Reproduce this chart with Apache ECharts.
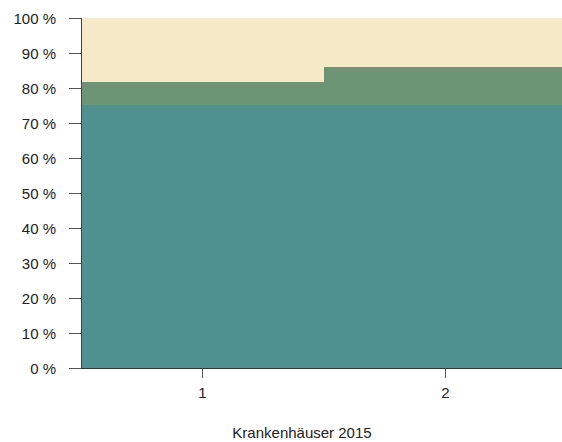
<!DOCTYPE html>
<html>
<head>
<meta charset="utf-8">
<script src="https://cdn.jsdelivr.net/npm/echarts@6/dist/echarts.min.js"></script>
<style>
  html, body { margin: 0; padding: 0; background: #fff; }
  #chart { width: 562px; height: 442px; }
  #chart path { shape-rendering: crispEdges; }
</style>
</head>
<body>
<div id="chart"></div>
<script>
// Daten (Anteile in %)
const categories = [1, 2];
const tealValues = [75.1, 75.1];
const greenValues = [6.5, 10.8];
const beigeValues = [18.4, 14.1];
const xTitle = 'Krankenhäuser 2015';

const myChart = echarts.init(document.getElementById('chart'), null, { renderer: 'svg' });

const labelFont = {
    color: '#222',
    fontFamily: 'Liberation Sans',
    fontSize: 15
};

// kumulierte Höhen, Balken liegen übereinander (hinterste zuerst)
const tealTop = tealValues.slice();
const greenTop = tealValues.map((v, i) => v + greenValues[i]);
const beigeTop = greenTop.map((v, i) => v + beigeValues[i]);

function pairs(values) {
    return values.map((v, i) => [categories[i], v]);
}

function barSeries(name, values, color) {
    return {
        name: name,
        type: 'bar',
        barWidth: 243,
        barGap: '-100%',
        data: pairs(values),
        itemStyle: { color: color }
    };
}

const option = {
    animation: false,
    grid: {
        left: 81,
        top: 18,
        right: 0,
        height: 350,
        containLabel: false
    },
    graphic: [{
        type: 'text',
        x: 302,
        y: 432,
        style: {
            text: xTitle,
            textAlign: 'center',
            textVerticalAlign: 'middle',
            fill: '#222',
            font: '15px "Liberation Sans"'
        }
    }],
    xAxis: {
        type: 'value',
        min: 0.5,
        max: 2.48,
        z: 10,
        axisLine: { show: true, onZero: false, lineStyle: { color: '#333', width: 1 } },
        axisTick: { show: true, customValues: categories, length: 10, lineStyle: { color: '#555' } },
        axisLabel: Object.assign({ customValues: categories, margin: 17 }, labelFont),
        splitLine: { show: false }
    },
    yAxis: {
        type: 'value',
        min: 0,
        max: 100,
        interval: 10,
        z: 10,
        axisLine: { show: true, onZero: false, lineStyle: { color: '#444', width: 1 } },
        axisTick: { show: true, length: 12, lineStyle: { color: '#555' } },
        axisLabel: Object.assign({ margin: 25, formatter: '{value} %' }, labelFont),
        splitLine: { show: false }
    },
    series: [
        barSeries('beige', beigeTop, '#f5e9c8'),
        barSeries('green', greenTop, '#6b9575'),
        barSeries('teal', tealTop, '#4f918f')
    ]
};
myChart.setOption(option);
</script>
</body>
</html>
